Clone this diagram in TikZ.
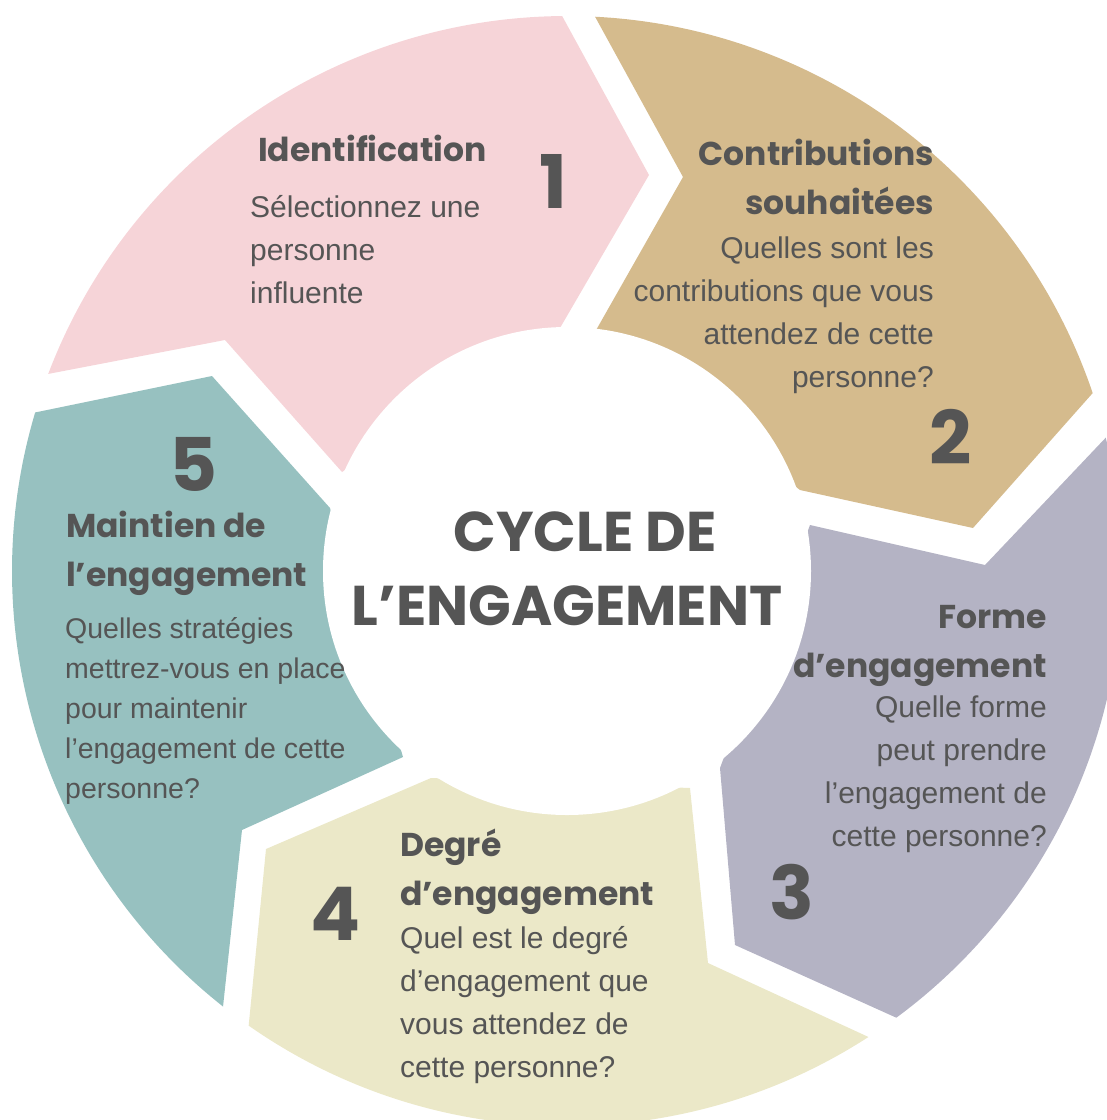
\documentclass[tikz,border=0pt]{standalone}
\usepackage{fontspec}
\setmainfont{Liberation Sans}
\newfontfamily\titlefont{Poppins}
\usepackage{xcolor}
\definecolor{pinkseg}{RGB}{246,212,216}
\definecolor{tanseg}{RGB}{213,187,141}
\definecolor{greyseg}{RGB}{180,179,196}
\definecolor{creamseg}{RGB}{235,232,200}
\definecolor{tealseg}{RGB}{151,193,192}
\definecolor{inkgrey}{RGB}{85,85,85}
\tikzset{
    segtitle/.style={font=\titlefont\bfseries\fontsize{33}{49}\selectfont, text=inkgrey, inner sep=0pt},
    segbody/.style={font=\fontsize{30}{43}\selectfont, text=inkgrey, inner sep=0pt},
    segnum/.style={font=\titlefont\bfseries\fontsize{74}{74}\selectfont, text=inkgrey, inner sep=0pt}}
\usetikzlibrary{calc}

\begin{document}
\begin{tikzpicture}[x=1pt, y=-1pt,
      heading/.style={font=\titlefont\bfseries\fontsize{56}{72}\selectfont, text=inkgrey, inner sep=0pt}]
  \useasboundingbox (0,0) rectangle (1107,1120);
  \clip (0,0) rectangle (1107,1120);
  \coordinate (c) at (567,571);
  % Arrow segments
  \fill[pinkseg] ($(c)+(-159.2:555)$) arc[start angle=-159.2, end angle=-90.5, radius=555]
    -- (649,175) -- (560,328) -- (342,472) -- (225,340) -- cycle;
  \fill[tanseg] ($(c)+(-87.1:555)$) arc[start angle=-87.1, end angle=-18.7, radius=555]
    -- (973,528) -- (800,490) -- (595,332) -- (683,177) -- cycle;
  \fill[greyseg] ($(c)+(-13.9:555)$) arc[start angle=-13.9, end angle=53.6, radius=555]
    -- (735,945) -- (720,768) -- (810,525) -- (985,565) -- cycle;
  \fill[creamseg] ($(c)+(57.1:555)$) arc[start angle=57.1, end angle=125.0, radius=555]
    -- (266,849) -- (431,778) -- (690,788) -- (708,963) -- cycle;
  \fill[tealseg] ($(c)+(128.3:555)$) arc[start angle=128.3, end angle=196.6, radius=555]
    -- (212,376) -- (330,508) -- (403,757) -- (242,830) -- cycle;
  % Hub
  \fill[white] (c) circle[radius=244];
  \node[heading, anchor=base] (cycle) at (585,551) {CYCLE DE};
  \node[heading, anchor=base] (engagement) at (567,625) {L’ENGAGEMENT};
  % Step 1
  \node[segtitle, anchor=base west] (t1) at (258,161) {Identification};
  \node[segbody, anchor=base west, align=left] (b1) at (250,303) {Sélectionnez une\\personne\\influente};
  \node[segnum] (n1) at (553,181) {1};
  % Step 2
  \node[segtitle, anchor=base east, align=right] (t2) at (934,214) {Contributions\hspace{0.4em}\\souhaitées};
  \node[segbody, anchor=base east, align=right] (b2) at (934,387) {Quelles sont les\\contributions que vous\\attendez de cette\\personne?};
  \node[segnum] (n2) at (951,437) {2};
  % Step 3
  \node[segtitle, anchor=base east, align=right] (t3) at (1047,677) {Forme\\d’engagement};
  \node[segbody, anchor=base east, align=right] (b3) at (1047,846) {Quelle forme\\peut prendre\\l’engagement de\\cette personne?};
  \node[segnum] (n3) at (792,892) {3};
  % Step 4
  \node[segtitle, anchor=base west, align=left] (t4) at (400,905) {Degré\\d’engagement};
  \node[segbody, anchor=base west, align=left] (b4) at (400,1077) {Quel est le degré\\d’engagement que\\vous attendez de\\cette personne?};
  \node[segnum] (n4) at (336,914) {4};
  % Step 5
  \node[segnum] (n5) at (194,464) {5};
  \node[segtitle, anchor=base west, align=left] (t5) at (66,586) {Maintien de\\l’engagement};
  \node[segbody, anchor=base west, align=left, font=\fontsize{28.5}{40}\selectfont] (b5) at (65,798) {Quelles stratégies\\mettrez-vous en place\\pour maintenir\\l’engagement de cette\\personne?};
\end{tikzpicture}
\end{document}
